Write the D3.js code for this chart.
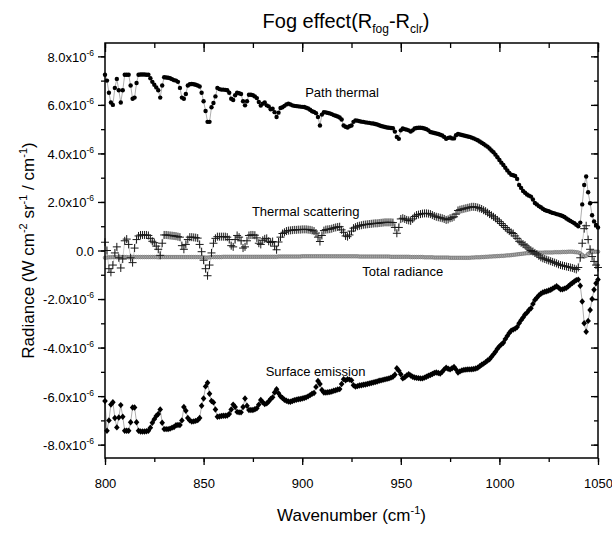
<!DOCTYPE html>
<html>
<head>
<meta charset="utf-8">
<script src="https://cdn.jsdelivr.net/npm/d3@7"></script>
<style>
  body { margin: 0; background: #fff; }
  text { font-family: "Liberation Sans", Arial, sans-serif; fill: #000; }
</style>
</head>
<body>
<svg width="612" height="533"></svg>
<script>
// wavenumber grid (cm-1), one sample per cm-1
var wavenumbers = d3.range(800, 1051);

// radiance values, in units of 1e-6 W cm-2 sr-1 / cm-1
var pathThermal = [
  7.24,7.00,6.50,6.10,6.00,6.70,7.07,6.60,6.10,6.60,
  7.24,7.24,7.24,6.80,6.25,6.30,6.90,7.24,7.25,7.25,
  7.25,7.24,7.24,7.10,6.95,6.83,6.72,6.60,6.30,6.80,
  7.14,7.13,7.12,7.10,7.06,7.02,7.00,6.95,6.70,6.30,
  6.25,6.45,6.80,6.85,6.86,6.85,6.83,6.80,6.76,6.50,
  6.15,5.75,5.30,5.30,5.90,6.08,6.35,6.70,6.65,6.63,
  6.63,6.62,6.60,6.50,6.25,6.20,6.40,6.50,6.48,6.45,
  6.15,5.98,6.15,6.42,6.42,6.40,6.35,6.28,6.12,5.97,
  6.05,6.10,5.98,5.94,5.82,5.84,5.70,5.50,5.68,5.87,
  5.90,5.96,6.02,6.05,6.02,5.98,5.96,5.95,5.94,5.93,
  5.92,5.91,5.88,5.85,5.80,5.74,5.71,5.66,5.50,5.15,
  5.60,5.70,5.69,5.67,5.65,5.62,5.58,5.55,5.52,5.48,
  5.40,5.15,5.10,5.07,5.12,5.15,5.30,5.36,5.35,5.33,
  5.31,5.30,5.28,5.27,5.26,5.24,5.23,5.21,5.19,5.16,
  5.13,5.11,5.09,5.07,5.06,5.05,5.04,4.90,4.68,4.60,
  4.95,5.03,5.00,4.98,4.95,4.90,4.95,5.03,5.05,5.06,
  5.06,5.05,5.03,5.00,4.95,4.88,4.86,4.84,4.82,4.80,
  4.77,4.74,4.68,4.60,4.64,4.66,4.62,4.62,4.75,4.80,
  4.78,4.76,4.74,4.72,4.70,4.68,4.65,4.62,4.58,4.54,
  4.49,4.44,4.39,4.33,4.28,4.20,4.12,4.05,3.95,3.84,
  3.73,3.62,3.52,3.41,3.30,3.20,3.12,3.10,3.07,2.95,
  2.70,2.58,2.45,2.38,2.31,2.26,2.22,2.10,1.96,1.90,
  1.83,1.78,1.72,1.67,1.64,1.62,1.58,1.55,1.53,1.50,
  1.48,1.45,1.42,1.38,1.32,1.27,1.22,1.17,1.12,1.06,
  1.00,1.15,1.90,2.70,3.05,2.40,1.95,1.45,1.20,1.05,
  0.95
];

var thermalScattering = [
  0.34,0.00,-0.75,-0.90,-0.60,-0.10,0.15,-0.30,-0.72,-0.35,
  0.40,0.47,0.25,-0.30,-0.50,0.10,0.45,0.60,0.64,0.64,
  0.64,0.64,0.62,0.50,0.38,0.32,0.18,0.05,-0.20,0.30,
  0.64,0.64,0.63,0.62,0.61,0.60,0.59,0.57,0.55,0.20,
  0.05,0.25,0.45,0.55,0.55,0.54,0.53,0.51,0.25,-0.05,
  -0.40,-0.75,-1.04,-0.60,-0.10,0.30,0.50,0.57,0.57,0.57,
  0.57,0.57,0.55,0.45,0.20,0.15,0.45,0.62,0.55,0.40,
  0.10,0.15,0.40,0.62,0.64,0.64,0.63,0.52,0.30,0.25,
  0.42,0.48,0.50,0.38,0.33,0.37,0.18,0.03,0.35,0.55,
  0.70,0.75,0.80,0.82,0.83,0.84,0.85,0.85,0.86,0.86,
  0.87,0.87,0.87,0.86,0.85,0.83,0.80,0.72,0.55,0.37,
  0.62,0.82,0.86,0.87,0.88,0.90,0.93,0.95,0.97,0.98,
  0.85,0.75,0.60,0.57,0.64,0.80,0.92,0.96,1.00,1.02,
  1.04,1.06,1.07,1.08,1.09,1.10,1.11,1.12,1.12,1.13,
  1.14,1.15,1.16,1.16,1.16,1.16,1.15,0.95,0.71,0.95,
  1.30,1.33,1.30,1.26,1.24,1.22,1.30,1.40,1.46,1.48,
  1.50,1.52,1.53,1.53,1.52,1.50,1.46,1.42,1.39,1.37,
  1.35,1.33,1.30,1.26,1.28,1.33,1.35,1.39,1.50,1.65,
  1.68,1.70,1.72,1.74,1.76,1.78,1.80,1.80,1.79,1.77,
  1.74,1.71,1.66,1.62,1.56,1.50,1.45,1.39,1.33,1.26,
  1.19,1.11,1.03,0.95,0.87,0.80,0.74,0.70,0.60,0.50,
  0.38,0.32,0.26,0.22,0.14,0.06,0.00,-0.04,-0.10,-0.15,
  -0.22,-0.28,-0.32,-0.35,-0.38,-0.41,-0.44,-0.47,-0.50,-0.53,
  -0.57,-0.60,-0.62,-0.64,-0.66,-0.68,-0.70,-0.72,-0.75,-0.78,
  -0.70,-0.30,0.30,0.90,1.02,0.45,0.05,-0.25,-0.45,-0.60,
  -0.70
];

var totalRadiance = [
  -0.30,-0.29,-0.28,-0.28,-0.27,-0.27,-0.28,-0.28,-0.27,-0.27,
  -0.27,-0.27,-0.28,-0.28,-0.27,-0.27,-0.27,-0.27,-0.27,-0.27,
  -0.27,-0.27,-0.27,-0.27,-0.27,-0.27,-0.27,-0.28,-0.27,-0.27,
  -0.27,-0.27,-0.27,-0.27,-0.27,-0.27,-0.27,-0.27,-0.27,-0.27,
  -0.27,-0.27,-0.27,-0.27,-0.27,-0.27,-0.27,-0.27,-0.27,-0.28,
  -0.28,-0.29,-0.29,-0.28,-0.27,-0.27,-0.27,-0.27,-0.27,-0.27,
  -0.26,-0.26,-0.26,-0.26,-0.26,-0.26,-0.26,-0.26,-0.26,-0.26,
  -0.26,-0.26,-0.26,-0.26,-0.26,-0.26,-0.26,-0.26,-0.26,-0.26,
  -0.26,-0.26,-0.26,-0.26,-0.26,-0.26,-0.26,-0.26,-0.25,-0.25,
  -0.25,-0.25,-0.25,-0.25,-0.25,-0.25,-0.25,-0.25,-0.25,-0.25,
  -0.24,-0.24,-0.24,-0.24,-0.24,-0.24,-0.24,-0.24,-0.24,-0.24,
  -0.24,-0.24,-0.24,-0.24,-0.24,-0.24,-0.24,-0.24,-0.24,-0.24,
  -0.24,-0.24,-0.24,-0.24,-0.24,-0.24,-0.24,-0.24,-0.24,-0.25,
  -0.25,-0.25,-0.25,-0.25,-0.25,-0.25,-0.25,-0.25,-0.25,-0.25,
  -0.25,-0.25,-0.25,-0.25,-0.25,-0.26,-0.26,-0.26,-0.26,-0.26,
  -0.26,-0.26,-0.26,-0.26,-0.26,-0.27,-0.27,-0.27,-0.27,-0.27,
  -0.27,-0.27,-0.28,-0.28,-0.28,-0.28,-0.28,-0.29,-0.29,-0.29,
  -0.29,-0.29,-0.29,-0.29,-0.29,-0.30,-0.30,-0.30,-0.30,-0.30,
  -0.30,-0.30,-0.30,-0.30,-0.30,-0.30,-0.29,-0.29,-0.28,-0.28,
  -0.28,-0.27,-0.27,-0.26,-0.26,-0.25,-0.25,-0.24,-0.24,-0.23,
  -0.23,-0.22,-0.22,-0.21,-0.20,-0.20,-0.19,-0.18,-0.17,-0.16,
  -0.15,-0.14,-0.13,-0.12,-0.11,-0.11,-0.10,-0.10,-0.10,-0.09,
  -0.09,-0.09,-0.09,-0.08,-0.08,-0.08,-0.08,-0.08,-0.07,-0.07,
  -0.07,-0.07,-0.06,-0.06,-0.06,-0.05,-0.05,-0.05,-0.06,-0.07,
  -0.08,-0.12,-0.18,-0.25,-0.22,-0.14,-0.08,-0.06,-0.05,-0.05,
  -0.05
];

var surfaceEmission = [
  -6.20,-7.43,-7.00,-6.35,-6.25,-6.90,-7.29,-6.88,-6.37,-6.85,
  -7.43,-7.43,-7.43,-7.08,-6.47,-6.47,-7.08,-7.43,-7.46,-7.46,
  -7.46,-7.45,-7.43,-7.30,-7.10,-6.95,-6.82,-6.74,-6.55,-7.10,
  -7.36,-7.36,-7.36,-7.34,-7.30,-7.27,-7.20,-7.19,-7.19,-7.00,
  -6.45,-6.60,-6.90,-7.00,-7.05,-7.04,-7.02,-6.99,-6.90,-6.40,
  -6.10,-5.60,-5.45,-5.90,-6.20,-6.26,-6.55,-6.85,-6.84,-6.82,
  -6.81,-6.81,-6.80,-6.74,-6.55,-6.35,-6.45,-6.65,-6.67,-6.67,
  -6.45,-6.10,-6.40,-6.57,-6.57,-6.57,-6.54,-6.50,-6.35,-6.16,
  -6.25,-6.33,-6.30,-6.22,-6.12,-6.05,-5.85,-5.72,-5.88,-6.01,
  -6.08,-6.15,-6.19,-6.22,-6.23,-6.20,-6.17,-6.15,-6.13,-6.12,
  -6.10,-6.08,-6.05,-6.01,-5.96,-5.90,-5.87,-5.62,-5.38,-5.50,
  -5.75,-5.85,-5.85,-5.84,-5.83,-5.81,-5.78,-5.76,-5.73,-5.71,
  -5.50,-5.30,-5.35,-5.30,-5.32,-5.35,-5.55,-5.61,-5.59,-5.56,
  -5.55,-5.53,-5.52,-5.50,-5.48,-5.46,-5.44,-5.42,-5.40,-5.37,
  -5.35,-5.33,-5.31,-5.29,-5.27,-5.24,-5.20,-5.12,-4.85,-4.95,
  -5.10,-5.27,-5.22,-5.15,-5.10,-5.15,-5.20,-5.23,-5.25,-5.26,
  -5.27,-5.27,-5.24,-5.20,-5.16,-5.13,-5.09,-5.05,-5.03,-5.05,
  -5.07,-5.00,-4.90,-4.83,-4.87,-4.90,-4.85,-4.80,-4.90,-5.03,
  -4.98,-4.94,-4.92,-4.91,-4.90,-4.90,-4.89,-4.88,-4.86,-4.83,
  -4.77,-4.71,-4.66,-4.60,-4.53,-4.48,-4.38,-4.28,-4.17,-4.05,
  -3.95,-3.87,-3.80,-3.65,-3.52,-3.40,-3.30,-3.26,-3.22,-3.15,
  -3.00,-2.87,-2.76,-2.64,-2.56,-2.45,-2.38,-2.20,-2.04,-1.95,
  -1.85,-1.78,-1.73,-1.70,-1.68,-1.65,-1.62,-1.57,-1.52,-1.47,
  -1.53,-1.60,-1.60,-1.57,-1.54,-1.47,-1.40,-1.34,-1.28,-1.22,
  -1.20,-1.45,-2.10,-3.00,-3.35,-2.90,-2.45,-2.00,-1.62,-1.35,
  -1.20
];

var xTicks = [800, 850, 900, 950, 1000, 1050];
var yTicks = [8, 6, 4, 2, 0, -2, -4, -6, -8];

var svg = d3.select("svg");
var margin = {left: 105, right: 14, top: 43, bottom: 75};
var width = 612 - margin.left - margin.right,
    height = 533 - margin.top - margin.bottom;

var x = d3.scaleLinear().domain([800, 1050]).range([margin.left, margin.left + width]);
var y = d3.scaleLinear().domain([-8.55, 8.55]).range([margin.top + height, margin.top]);

var g = svg.append("g");

// axes: bottom and left outward, top and right inward
var minorX = d3.range(800, 1051, 25);
var minorY = d3.range(-8, 9, 1);

g.append("g")
  .attr("transform", "translate(0," + (margin.top + height) + ")")
  .call(d3.axisBottom(x).tickValues(minorX).tickSize(4).tickFormat(""));
g.append("g")
  .attr("transform", "translate(0," + (margin.top + height) + ")")
  .call(d3.axisBottom(x).tickValues(xTicks).tickSize(7).tickPadding(14).tickFormat(d3.format("d")));
g.append("g")
  .attr("transform", "translate(0," + margin.top + ")")
  .call(d3.axisBottom(x).tickValues(minorX).tickSize(5).tickFormat(""));
g.append("g")
  .attr("transform", "translate(0," + margin.top + ")")
  .call(d3.axisBottom(x).tickValues(xTicks).tickSize(9).tickFormat(""));

g.append("g")
  .attr("transform", "translate(" + margin.left + ",0)")
  .call(d3.axisLeft(y).tickValues(minorY).tickSize(4).tickFormat(""));
var yAx = g.append("g")
  .attr("transform", "translate(" + margin.left + ",0)")
  .call(d3.axisLeft(y).tickValues(yTicks).tickSize(7).tickPadding(5).tickFormat(""));
g.append("g")
  .attr("transform", "translate(" + (margin.left + width) + ",0)")
  .call(d3.axisLeft(y).tickValues(minorY).tickSize(4).tickFormat(""));
g.append("g")
  .attr("transform", "translate(" + (margin.left + width) + ",0)")
  .call(d3.axisLeft(y).tickValues(yTicks).tickSize(7).tickFormat(""));

g.selectAll(".domain").remove();
g.selectAll(".tick line").attr("stroke", "#000").attr("stroke-width", 1.3);
g.selectAll(".tick text").attr("font-size", 13).attr("fill", "#000")
  .style("font-family", "'Liberation Sans', Arial, sans-serif");

// y tick labels with 10^-6 exponent
yAx.selectAll(".tick").each(function(d) {
  var t = d3.select(this).append("text")
    .attr("x", -11).attr("dy", "0.38em")
    .attr("text-anchor", "end")
    .attr("font-size", 13);
  if (d === 0) {
    t.text("0.0");
  } else {
    t.append("tspan").text(d.toFixed(1) + "x10");
    t.append("tspan").attr("dy", -6).attr("font-size", 8.5).text("-6");
  }
});

// lines
var line = d3.line()
  .x(function(d, i) { return x(wavenumbers[i]); })
  .y(function(d) { return y(d); });

var plot = svg.append("g");

plot.append("path").datum(totalRadiance).attr("d", line)
  .attr("fill", "none").attr("stroke", "#888").attr("stroke-width", 0.6);
plot.append("path").datum(thermalScattering).attr("d", line)
  .attr("fill", "none").attr("stroke", "#aaa").attr("stroke-width", 0.6);
plot.append("path").datum(pathThermal).attr("d", line)
  .attr("fill", "none").attr("stroke", "#777").attr("stroke-width", 0.6);
plot.append("path").datum(surfaceEmission).attr("d", line)
  .attr("fill", "none").attr("stroke", "#777").attr("stroke-width", 0.6);

// total radiance: small grey open circles
plot.append("g").selectAll("circle").data(totalRadiance).enter().append("circle")
  .attr("cx", function(d, i) { return x(wavenumbers[i]); })
  .attr("cy", function(d) { return y(d); })
  .attr("r", 1.8)
  .attr("fill", "#aaa").attr("stroke", "#666").attr("stroke-width", 0.6);

// thermal scattering: crosses
plot.append("g").selectAll("path").data(thermalScattering).enter().append("path")
  .attr("d", "M-4,0H4M0,-4V4")
  .attr("transform", function(d, i) { return "translate(" + x(wavenumbers[i]) + "," + y(d) + ")"; })
  .attr("stroke", "#1a1a1a").attr("stroke-width", 1).attr("fill", "none");

// path thermal: filled dots
plot.append("g").selectAll("circle").data(pathThermal).enter().append("circle")
  .attr("cx", function(d, i) { return x(wavenumbers[i]); })
  .attr("cy", function(d) { return y(d); })
  .attr("r", 2.2)
  .attr("fill", "#000");

// surface emission: filled diamonds
plot.append("g").selectAll("path").data(surfaceEmission).enter().append("path")
  .attr("d", "M0,-3.2L2.8,0L0,3.2L-2.8,0Z")
  .attr("transform", function(d, i) { return "translate(" + x(wavenumbers[i]) + "," + y(d) + ")"; })
  .attr("fill", "#000");

// frame
svg.append("rect")
  .attr("x", margin.left).attr("y", margin.top)
  .attr("width", width).attr("height", height)
  .attr("fill", "none").attr("stroke", "#000").attr("stroke-width", 1.5);

// curve labels
var labels = svg.append("g").attr("font-size", 13);
labels.append("text").attr("x", x(901.5)).attr("y", 97).text("Path thermal");
labels.append("text").attr("x", x(874.5)).attr("y", 216).text("Thermal scattering");
labels.append("text").attr("x", x(930.5)).attr("y", 276).text("Total radiance");
labels.append("text").attr("x", x(881.5)).attr("y", 376).text("Surface emission");

// title
var title = svg.append("text")
  .attr("x", 346).attr("y", 28)
  .attr("text-anchor", "middle")
  .attr("font-size", 20);
title.append("tspan").text("Fog effect(R");
title.append("tspan").attr("font-size", 12).attr("dy", 5).text("fog");
title.append("tspan").attr("dy", -5).text("-R");
title.append("tspan").attr("font-size", 12).attr("dy", 5).text("clr");
title.append("tspan").attr("dy", -5).text(")");

// x axis title
var xt = svg.append("text")
  .attr("x", margin.left + width / 2).attr("y", 521)
  .attr("text-anchor", "middle")
  .attr("font-size", 17);
xt.append("tspan").text("Wavenumber (cm");
xt.append("tspan").attr("font-size", 11).attr("dy", -7).text("-1");
xt.append("tspan").attr("dy", 7).text(")");

// y axis title
var yt = svg.append("text")
  .attr("transform", "translate(34," + (margin.top + height / 2) + ") rotate(-90)")
  .attr("text-anchor", "middle")
  .attr("font-size", 17);
yt.append("tspan").text("Radiance (W cm");
yt.append("tspan").attr("font-size", 11).attr("dy", -7).text("-2");
yt.append("tspan").attr("dy", 7).text(" sr");
yt.append("tspan").attr("font-size", 11).attr("dy", -7).text("-1");
yt.append("tspan").attr("dy", 7).text(" / cm");
yt.append("tspan").attr("font-size", 11).attr("dy", -7).text("-1");
yt.append("tspan").attr("dy", 7).text(")");
</script>
</body>
</html>
